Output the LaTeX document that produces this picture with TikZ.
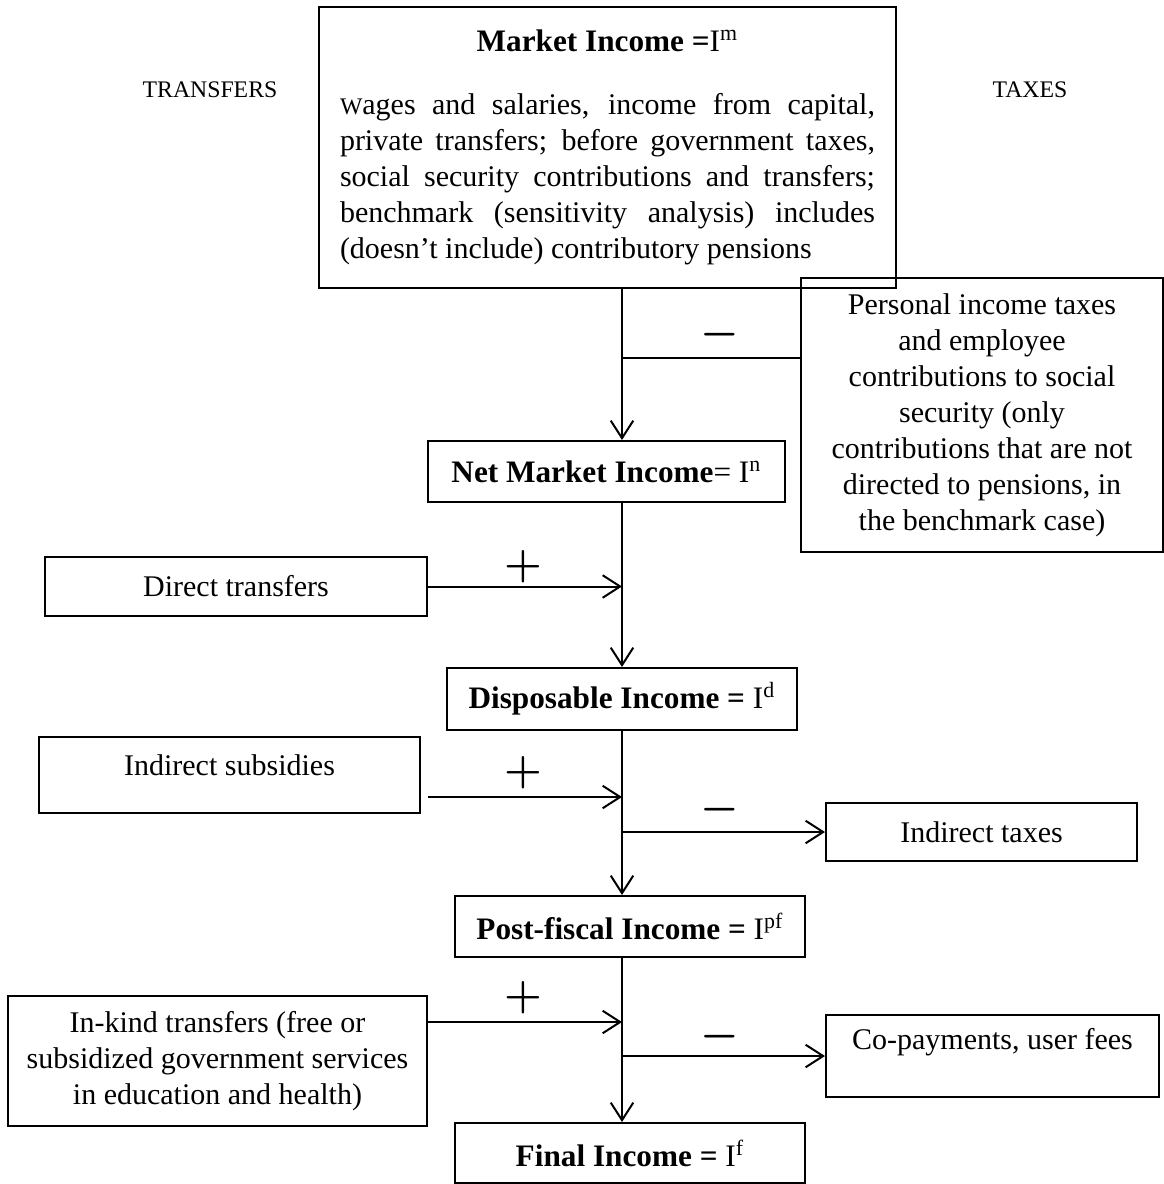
\documentclass[tikz,border=0pt]{standalone}
\usepackage{fontspec}
\setmainfont{Liberation Serif}
\usetikzlibrary{arrows.meta}

\begin{document}
\begin{tikzpicture}[x=0.4pt, y=-0.4pt,
  box/.style={draw, line width=0.8pt, inner sep=0pt, align=center,
    font=\fontsize{12}{14.4}\selectfont},
  title/.style={font=\fontsize{12.5}{15}\selectfont},
  link/.style={line width=0.8pt},
  flow/.style={line width=0.8pt, -{Straight Barb[length=7pt,width=9pt,line width=0.8pt]}},
  sign/.style={font=\fontsize{19}{19}\selectfont\boldmath}]
  \useasboundingbox (0,0) rectangle (1164,1184);

  % Market income at the top
  \node[box, minimum width=230.8pt, minimum height=112.4pt, text width=214pt, align=justify] (market) at (607.5,147.5)
    {{\centering\fontsize{12.5}{15}\selectfont\textbf{Market Income =}I\textsuperscript{m}\par}\vspace{11pt}
     \hyphenpenalty=10000
     {\fontsize{9.5}{10}\selectfont W}ages and salaries, income from capital,\linebreak
     private transfers; before government taxes,\linebreak
     social security contributions and transfers;\linebreak
     benchmark (sensitivity analysis) includes\linebreak
     (doesn't include) contributory pensions\par};
  \node[font=\fontsize{9.5}{11}\selectfont] (transfers) at (210,90) {TRANSFERS};
  \node[font=\fontsize{9.5}{11}\selectfont] (taxes) at (1030,90) {TAXES};

  % Spine of the flow
  \coordinate (spine) at (622,0);

  % Personal income taxes
  \node[box, minimum width=144.8pt, minimum height=109.6pt] (personal) at (982,415)
    {Personal income taxes\\and employee\\contributions to social\\security (only\\contributions that are not\\directed to pensions, in\\the benchmark case)};
  \coordinate (ptax) at (622,358);
  \draw[link] (personal.west |- ptax) -- (ptax);
  \node[sign] (m1) at (720,335) {$-$};

  % Net market income
  \node[box, title, minimum width=142.8pt, minimum height=24.4pt] (net) at (606.5,471.5)
    {\textbf{Net Market Income}= I\textsuperscript{n}};
  \draw[flow] (market.south -| spine) -- (net.north -| spine);

  % Direct transfers
  \node[box, minimum width=152.8pt, minimum height=23.6pt] (direct) at (236,586.5) {Direct transfers};
  \draw[flow] (direct.east) -- (direct.east -| spine);
  \node[sign] (p1) at (523,567) {$+$};

  % Disposable income
  \node[box, title, minimum width=140pt, minimum height=24.8pt] (disp) at (622,699)
    {\textbf{Disposable Income =} I\textsuperscript{d}};
  \draw[flow] (net.south -| spine) -- (disp.north -| spine);

  % Indirect subsidies and indirect taxes
  \node[box, minimum width=152.4pt, minimum height=30.4pt, text depth=8pt] (subsid) at (229.5,775) {Indirect subsidies};
  \coordinate (sub) at (622,797);
  \draw[flow] ([xshift=2.8pt]subsid.east |- sub) -- (sub);
  \node[sign] (p2) at (523,773) {$+$};
  \node[box, minimum width=124.4pt, minimum height=23.2pt] (indtax) at (981.5,832) {Indirect taxes};
  \draw[flow] (spine |- indtax.west) -- (indtax.west);
  \node[sign] (m2) at (720,810) {$-$};

  % Post-fiscal income
  \node[box, title, minimum width=140pt, minimum height=24.4pt] (postfis) at (630,926.5)
    {\textbf{Post-fiscal Income =} I\textsuperscript{pf}};
  \draw[flow] (disp.south -| spine) -- (postfis.north -| spine);

  % In-kind transfers and co-payments
  \node[box, minimum width=167.6pt, minimum height=52pt] (inkind) at (217.5,1061)
    {In-kind transfers (free or\\subsidized government services\\in education and health)};
  \coordinate (kind) at (622,1022);
  \draw[flow] (inkind.east |- kind) -- (kind);
  \node[sign] (p3) at (523,998) {$+$};
  \node[box, minimum width=133.2pt, minimum height=32.8pt, text depth=14pt] (copay) at (992.5,1056) {Co-payments, user fees};
  \draw[flow] (spine |- copay.west) -- (copay.west);
  \node[sign] (m3) at (720,1037) {$-$};

  % Final income
  \node[box, title, minimum width=140pt, minimum height=24pt] (final) at (630,1153)
    {\textbf{Final Income =} I\textsuperscript{f}};
  \draw[flow] (postfis.south -| spine) -- (final.north -| spine);
\end{tikzpicture}
\end{document}
